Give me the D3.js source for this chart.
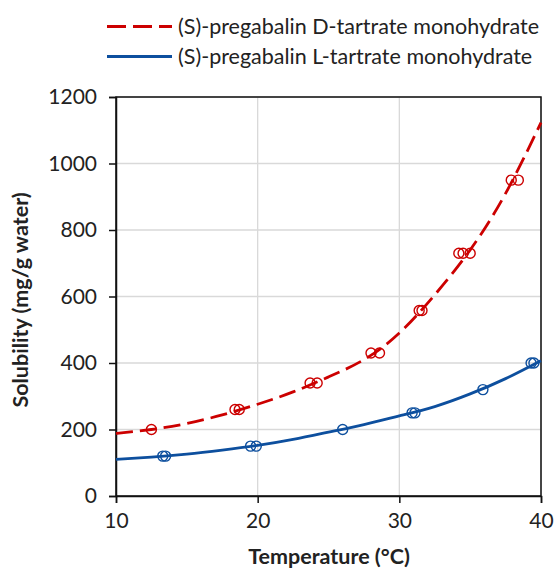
<!DOCTYPE html>
<html>
<head>
<meta charset="utf-8">
<script src="https://cdn.jsdelivr.net/npm/d3@7"></script>
<style>
  html, body { margin: 0; padding: 0; background: #fff; }
  svg { display: block; }
  text { font-family: Lato, "Open Sans", sans-serif; fill: #222; }
</style>
</head>
<body>
<svg id="chart" width="555" height="571"></svg>
<script>
// ---- Data ----
const seriesNames = ["(S)-pregabalin D-tartrate monohydrate", "(S)-pregabalin L-tartrate monohydrate"];
const seriesColors = ["#cc0000", "#0d4f9e"];

// measured points
const dTemp = [12.5, 18.4, 18.7, 23.7, 24.2, 28.0, 28.6, 31.4, 31.6, 34.2, 34.5, 35.0, 37.9, 38.4];
const dSol  = [200, 260, 260, 340, 340, 430, 430, 558, 558, 730, 730, 730, 950, 950];
const lTemp = [13.3, 13.5, 19.5, 19.9, 26.0, 30.9, 31.1, 35.9, 39.3, 39.5];
const lSol  = [120, 120, 150, 150, 200, 250, 250, 320, 400, 400];

// fitted curves
const curveTemp = [10, 12.5, 15, 17.5, 20, 22.5, 25, 27.5, 30, 32.5, 35, 37.5, 40];
const dCurve = [188, 200, 218, 244, 276, 313, 358, 410, 490, 605, 740, 910, 1123];
const lCurve = [110, 117, 126, 138, 152, 170, 192, 215, 241, 269, 307, 353, 407];

const xTicks = [10, 20, 30, 40];
const yTicks = [0, 200, 400, 600, 800, 1000, 1200];
const xTitle = "Temperature (°C)";
const yTitle = "Solubility (mg/g water)";

(function () {
// ---- Layout ----
const svg = d3.select("#chart");
const pL = 116, pR = 541, pT = 97, pB = 496;

const x = d3.scaleLinear().domain([10, 40]).range([pL, pR]);
const y = d3.scaleLinear().domain([0, 1200]).range([pB, pT]);

// gridlines
svg.append("g").selectAll("line").data(yTicks).join("line")
  .attr("x1", pL).attr("x2", pR)
  .attr("y1", d => y(d)).attr("y2", d => y(d))
  .attr("stroke", "#d9d9d9").attr("stroke-width", 1.3);
svg.append("g").selectAll("line").data(xTicks).join("line")
  .attr("y1", pT).attr("y2", pB)
  .attr("x1", d => x(d)).attr("x2", d => x(d))
  .attr("stroke", "#d9d9d9").attr("stroke-width", 1.3);

// frame
svg.append("rect").attr("x", pL).attr("y", pT)
  .attr("width", pR - pL).attr("height", pB - pT)
  .attr("fill", "none").attr("stroke", "#111").attr("stroke-width", 1.5);

// axes
const xAxis = svg.append("g").attr("transform", `translate(0,${pB})`)
  .call(d3.axisBottom(x).tickValues(xTicks).tickSize(7).tickPadding(10).tickFormat(d3.format("d")));
const yAxis = svg.append("g").attr("transform", `translate(${pL},0)`)
  .call(d3.axisLeft(y).tickValues(yTicks).tickSize(7).tickPadding(12).tickFormat(d3.format("d")));
[xAxis, yAxis].forEach(g => {
  g.select(".domain").attr("stroke", "#111").attr("stroke-width", 1.5);
  g.selectAll(".tick line").attr("stroke", "#111").attr("stroke-width", 1.5);
  g.selectAll(".tick text").attr("font-size", 21).attr("fill", "#222")
    .attr("font-family", "Lato, 'Open Sans', sans-serif");
});

// axis titles
svg.append("text").attr("x", 329).attr("y", 564)
  .attr("text-anchor", "middle").attr("font-size", 21.5).attr("font-weight", "bold")
  .text(xTitle);
svg.append("text").attr("transform", `translate(28,300) rotate(-90)`)
  .attr("text-anchor", "middle").attr("font-size", 21.5).attr("font-weight", "bold")
  .text(yTitle);

// curves
const line = d3.line().x(d => x(d[0])).y(d => y(d[1])).curve(d3.curveNatural);
const plot = svg.append("g");
const dPts = dTemp.map((t, i) => [t, dSol[i]]);
const lPts = lTemp.map((t, i) => [t, lSol[i]]);

// markers
plot.append("g").selectAll("circle").data(dPts).join("circle")
  .attr("cx", d => x(d[0])).attr("cy", d => y(d[1])).attr("r", 5)
  .attr("fill", "none").attr("stroke", seriesColors[0]).attr("stroke-width", 1.4);
plot.append("g").selectAll("circle").data(lPts).join("circle")
  .attr("cx", d => x(d[0])).attr("cy", d => y(d[1])).attr("r", 5)
  .attr("fill", "none").attr("stroke", seriesColors[1]).attr("stroke-width", 1.4);

plot.append("path").datum(curveTemp.map((t, i) => [t, lCurve[i]]))
  .attr("d", line).attr("fill", "none")
  .attr("stroke", seriesColors[1]).attr("stroke-width", 2.8);
plot.append("path").datum(curveTemp.map((t, i) => [t, dCurve[i]]))
  .attr("d", line).attr("fill", "none")
  .attr("stroke", seriesColors[0]).attr("stroke-width", 2.8)
  .attr("stroke-dasharray", "17,7");

// legend
const legend = svg.append("g");
const legY = [26.5, 56.5];
seriesNames.forEach((name, i) => {
  legend.append("line").attr("x1", 107).attr("x2", 172)
    .attr("y1", legY[i]).attr("y2", legY[i])
    .attr("stroke", seriesColors[i]).attr("stroke-width", 3)
    .attr("stroke-dasharray", i === 0 ? "19,7" : null);
  legend.append("text").attr("x", 178).attr("y", legY[i])
    .attr("dy", "0.35em").attr("font-size", 21.5).text(name);
});
})();
</script>
</body>
</html>
